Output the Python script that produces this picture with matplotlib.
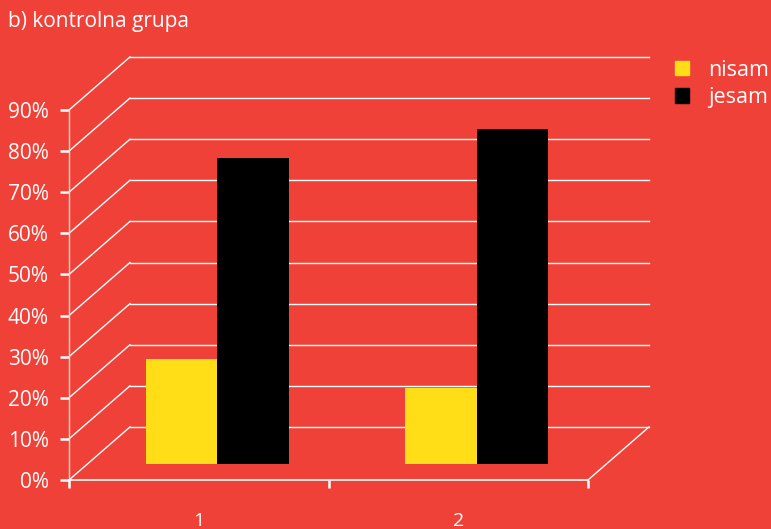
import matplotlib.pyplot as plt
from matplotlib.patches import Patch

plt.rcParams['font.family'] = ['Open Sans', 'DejaVu Sans']

categories = ['1', '2']
nisam = [25.5, 18.5]
jesam = [74.5, 81.5]
y_ticks = [0, 10, 20, 30, 40, 50, 60, 70, 80, 90]
y_labels = ['%d%%' % v for v in y_ticks]

bg = '#EF4138'
yellow = '#FFDD17'

# depth offset of the back wall, in data units (fake 3D)
DX, DY = 0.235, 12.9
bar_depth = 0.3
bw = 0.2755

fig = plt.figure(figsize=(7.71, 5.29), dpi=100, facecolor=bg)
ax = fig.add_axes([69 / 771, 49 / 529, 519 / 771, 370 / 529])
ax.set_facecolor(bg)
ax.set_xlim(0.5, 2.5)
ax.set_ylim(0, 90)

# back wall gridlines and side wall diagonals
for y in y_ticks:
    ax.plot([0.5 + DX, 2.5 + DX], [y + DY, y + DY], color='white', lw=1, clip_on=False)
    ax.plot([0.5, 0.5 + DX], [y, y + DY], color='white', lw=1, clip_on=False)
# floor right edge
ax.plot([2.5, 2.5 + DX], [0, DY], color='white', lw=1, clip_on=False)

x = list(range(1, len(categories) + 1))
ox, oy = bar_depth * DX, bar_depth * DY
ax.bar([i - bw / 2 + ox for i in x], nisam, width=bw, bottom=oy, color=yellow,
       clip_on=False, zorder=3, label='nisam')
ax.bar([i + bw / 2 + ox for i in x], jesam, width=bw, bottom=oy, color='black',
       clip_on=False, zorder=3, label='jesam')

for s in ['top', 'right']:
    ax.spines[s].set_visible(False)
ax.spines['bottom'].set_color('white')
ax.spines['bottom'].set_linewidth(1.2)
ax.spines['left'].set_color('#FFD0CC')
ax.spines['left'].set_linewidth(1)

ax.set_yticks(y_ticks)
ax.set_yticklabels(y_labels)
ax.tick_params(axis='y', colors='white', length=6.5, width=1.8, pad=8, labelsize=15)
ax.set_xticks([0.5, 1.5, 2.5])
ax.set_xticklabels([])
ax.set_xticks(x, minor=True)
ax.set_xticklabels(categories, minor=True)
ax.tick_params(axis='x', which='major', colors='white', length=6, width=1.8)
ax.tick_params(axis='x', which='minor', colors='white', length=0, pad=23, labelsize=14)

fig.text(8 / 771, 1 - 21 / 529, 'b) kontrolna grupa', color='white', fontsize=15,
         va='center', ha='left')

handles = [Patch(color=yellow), Patch(color='black')]
fig.legend(handles, ['nisam', 'jesam'], loc='upper left', bbox_to_anchor=(666 / 771, 1 - 51 / 529),
           frameon=False, handlelength=0.65, handleheight=0.65, handletextpad=0.9,
           labelspacing=0.3, borderaxespad=0, borderpad=0.4, fontsize=15.5, labelcolor='white')

fig.savefig('out.png', dpi=100, facecolor=bg)
